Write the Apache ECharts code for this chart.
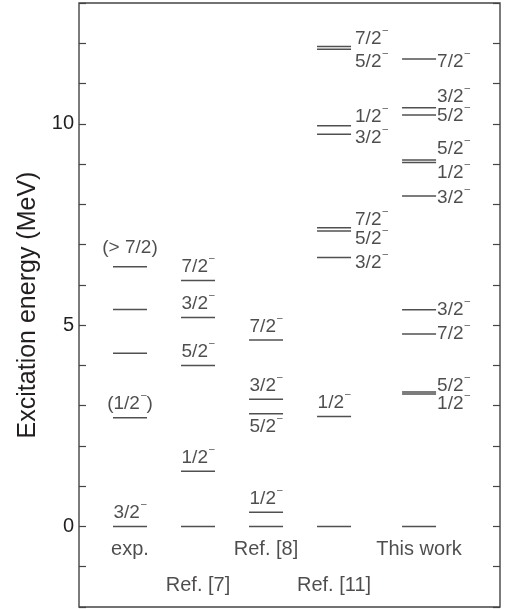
<!DOCTYPE html>
<html>
<head>
<meta charset="utf-8">
<script src="https://cdn.jsdelivr.net/npm/echarts@6/dist/echarts.min.js"></script>
<style>
html,body{margin:0;padding:0;background:#fff;}
#chart{width:507px;height:609px;}
</style>
</head>
<body>
<div id="chart"></div>
<script>
// ---- data ----
const columnNames = ['exp.', 'Ref. [7]', 'Ref. [8]', 'Ref. [11]', 'This work'];
const columnX = [1, 2, 3, 4, 5.25];

const expLevels = [0, 2.70, 4.30, 5.39, 6.45];
const expSpins = ['3/2-', '(1/2-)', '', '', '(> 7/2)'];

const ref7Levels = [0, 1.37, 4.00, 5.19, 6.11];
const ref7Spins = ['', '1/2-', '5/2-', '3/2-', '7/2-'];

const ref8Levels = [0, 0.35, 2.80, 3.16, 4.63];
const ref8Spins = ['', '1/2-', '5/2-', '3/2-', '7/2-'];

const ref11Levels = [0, 2.73, 6.68, 7.34, 7.42, 9.74, 9.95, 11.85, 11.92];
const ref11Spins = ['', '1/2-', '3/2-', '5/2-', '7/2-', '3/2-', '1/2-', '5/2-', '7/2-'];

const thisLevels = [0, 3.29, 3.34, 4.78, 5.38, 8.21, 9.04, 9.10, 10.22, 10.40, 11.61];
const thisSpins = ['', '1/2-', '5/2-', '7/2-', '3/2-', '3/2-', '1/2-', '5/2-', '5/2-', '3/2-', '7/2-'];

const yTickLabels = [0, 5, 10];

// ---- layout (label placement, not data) ----
const expPos = ['T', 'T', '', '', 'T'];
const expShift = [0, 0, 0, 0, 5];
const ref7Pos = ['', 'T', 'T', 'T', 'T'];
const ref7Shift = [0, 0, 0, 0, 0];
const ref8Pos = ['', 'T', 'B', 'T', 'T'];
const ref8Shift = [0, 0, 0, 0, 0];
const ref11Pos = ['', 'T', 'R', 'R', 'R', 'R', 'R', 'R', 'R'];
const ref11Shift = [0, 0, 5, 8, -8, 3, -9, 12, -8];
const thisPos = ['', 'R', 'R', 'R', 'R', 'R', 'R', 'R', 'R', 'R', 'R'];
const thisShift = [0, 10, -6, 0, 0, 2, 10, -11, 1, -11, 3];
const rightGap = [3, 3, 3, 4, 1];
const colLabelRow = [0, 1, 0, 1, 0];
const rowValues = [-0.58, -1.47];

const FONT = "'Liberation Sans', Arial, Helvetica, sans-serif";
const TEXT = '#231f20';
const LINE = '#505050';
const HW = 0.25;

const cols = [
  {levels: expLevels, spins: expSpins, pos: expPos, shift: expShift},
  {levels: ref7Levels, spins: ref7Spins, pos: ref7Pos, shift: ref7Shift},
  {levels: ref8Levels, spins: ref8Spins, pos: ref8Pos, shift: ref8Shift},
  {levels: ref11Levels, spins: ref11Spins, pos: ref11Pos, shift: ref11Shift},
  {levels: thisLevels, spins: thisSpins, pos: thisPos, shift: thisShift}
];

function spinRich(s) {
  return s.replace(/-/g, '}{s|\u2013}{t|').replace(/^/, '{t|') + '}';
}

const levelData = [];
const labelData = [];
cols.forEach((c, ci) => {
  const x = columnX[ci];
  c.levels.forEach((e, li) => {
    levelData.push([x, e]);
    const sp = c.spins[li];
    if (!sp) return;
    const p = c.pos[li];
    let item;
    if (p === 'T') {
      item = {value: [x, e], label: {position: 'top', distance: 3 + c.shift[li]}};
    } else if (p === 'B') {
      item = {value: [x, e], label: {position: 'bottom', distance: 3}};
    } else {
      item = {value: [x + HW, e], label: {position: 'right', distance: rightGap[ci], offset: [0, c.shift[li]]}};
    }
    item.label.formatter = spinRich(sp);
    labelData.push(item);
  });
});

const colLabelData = columnNames.map((n, i) => ({value: [columnX[i], rowValues[colLabelRow[i]]], name: n}));

const chart = echarts.init(document.getElementById('chart'), null, {renderer: 'canvas'});
chart.setOption({
  animation: false,
  backgroundColor: '#fff',
  grid: {left: 79, right: 7, top: 3, bottom: 2, show: true, borderColor: '#444', borderWidth: 1.4, containLabel: false},
  xAxis: {
    type: 'value', min: 0.25, max: 6.44,
    axisLine: {show: false}, axisTick: {show: false}, axisLabel: {show: false}, splitLine: {show: false}
  },
  yAxis: [
    {
      type: 'value', min: -2, max: 13, interval: 1, position: 'left',
      name: 'Excitation energy (MeV)', nameLocation: 'middle', nameGap: 37,
      nameTextStyle: {fontFamily: FONT, fontSize: 25, color: TEXT},
      axisLine: {show: false},
      axisTick: {show: true, inside: true, length: 7, lineStyle: {color: '#444', width: 1.2}},
      axisLabel: {
        margin: 5, fontFamily: FONT, fontSize: 20, color: TEXT,
        formatter: v => (yTickLabels.indexOf(v) >= 0 ? String(v) : '')
      },
      splitLine: {show: false}
    },
    {
      type: 'value', min: -2, max: 13, interval: 1, position: 'right',
      axisLine: {show: false},
      axisTick: {show: true, inside: true, length: 7, lineStyle: {color: '#444', width: 1.2}},
      axisLabel: {show: false},
      splitLine: {show: false}
    }
  ],
  series: [
    {
      type: 'custom',
      data: levelData,
      renderItem: function (params, api) {
        const x = api.value(0), e = api.value(1);
        const p1 = api.coord([x - HW, e]);
        const p2 = api.coord([x + HW, e]);
        return {
          type: 'line',
          shape: {x1: p1[0], y1: p1[1], x2: p2[0], y2: p2[1]},
          style: {stroke: LINE, lineWidth: 1.5}
        };
      },
      silent: true
    },
    {
      type: 'scatter',
      symbolSize: 0,
      data: labelData,
      silent: true,
      label: {
        show: true,
        color: TEXT,
        rich: {
          t: {fontFamily: FONT, fontSize: 19, color: TEXT, lineHeight: 21},
          s: {fontFamily: FONT, fontSize: 10, color: TEXT, verticalAlign: 'top', lineHeight: 10, padding: [-3, 0, 0, 1]}
        }
      }
    },
    {
      type: 'scatter',
      symbolSize: 0,
      data: colLabelData,
      silent: true,
      label: {
        show: true, position: 'inside', formatter: '{b}',
        fontFamily: FONT, fontSize: 20, color: TEXT
      }
    }
  ]
});
</script>
</body>
</html>
